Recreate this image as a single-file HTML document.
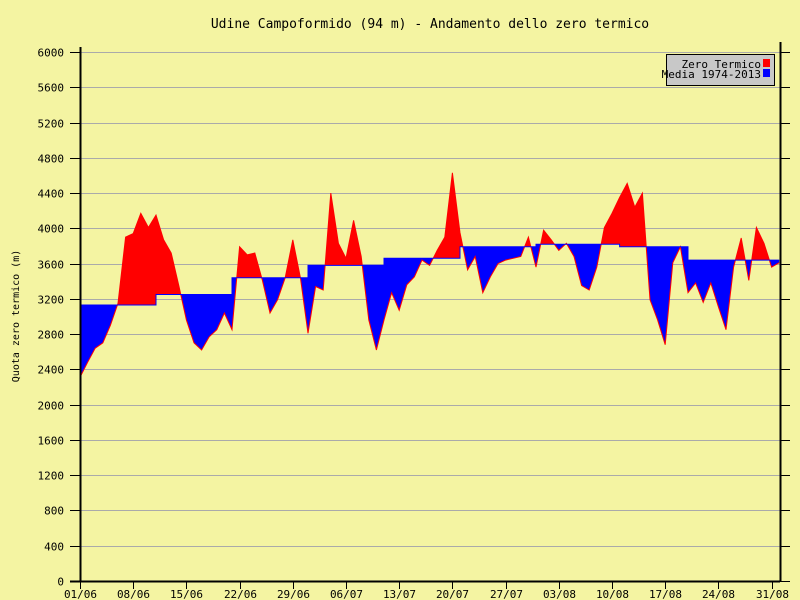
<!DOCTYPE html>
<html><head><meta charset="utf-8"><style>
body{margin:0;background:#f4f4a2}
svg{display:block}
text{font-family:"DejaVu Sans Mono","Liberation Mono",monospace;font-size:11px;fill:#000}
</style></head><body>
<svg id="chart" width="800" height="600"></svg>
<script>
const dayLabels=["01/06","08/06","15/06","22/06","29/06","06/07","13/07","20/07","27/07","03/08","10/08","17/08","24/08","31/08"];
const yTicks=[0,400,800,1200,1600,2000,2400,2800,3200,3600,4000,4400,4800,5200,5600,6000];
const zeroTermico=[2310,2480,2640,2700,2900,3150,3900,3940,4170,4010,4150,3870,3720,3350,2960,2700,2620,2770,2850,3040,2850,3790,3700,3720,3410,3040,3190,3440,3870,3440,2810,3340,3300,4400,3830,3660,4090,3680,2960,2620,2960,3270,3070,3360,3450,3640,3580,3750,3900,4630,3950,3530,3680,3270,3450,3600,3640,3660,3680,3900,3560,3980,3870,3750,3830,3680,3350,3300,3560,4010,4170,4350,4510,4240,4400,3190,2960,2680,3610,3790,3270,3380,3160,3380,3110,2850,3560,3890,3410,4010,3830,3560,3610];
const media=[3130,3130,3130,3130,3130,3130,3130,3130,3130,3130,3250,3250,3250,3250,3250,3250,3250,3250,3250,3250,3440,3440,3440,3440,3440,3440,3440,3440,3440,3440,3580,3580,3580,3580,3580,3580,3580,3580,3580,3580,3660,3660,3660,3660,3660,3660,3660,3660,3660,3660,3790,3790,3790,3790,3790,3790,3790,3790,3790,3790,3820,3820,3820,3820,3820,3820,3820,3820,3820,3820,3820,3790,3790,3790,3790,3790,3790,3790,3790,3790,3640,3640,3640,3640,3640,3640,3640,3640,3640,3640,3640,3640,3640];
const NS="http://www.w3.org/2000/svg";
const svg=document.getElementById('chart');
const X0=80,X1=780,Y0=581,Y1=52,DAYPX=7.6;
const xs=d=>X0+d*DAYPX;
const ys=v=>Y0-(v-0)/6000*(Y0-Y1);
function el(t,a,p){const e=document.createElementNS(NS,t);for(const k in a)e.setAttribute(k,a[k]);(p||svg).appendChild(e);return e;}
let t=el('text',{x:430,y:28,'text-anchor':'middle'});t.style.fontSize='13px';
t.textContent='Udine Campoformido (94 m) - Andamento dello zero termico';


t=el('text',{x:19,y:316,'text-anchor':'middle',transform:'rotate(-90 19 316)'});t.style.fontSize='10px';
t.textContent='Quota zero termico (m)';


yTicks.forEach(v=>{
  const y=Math.round(ys(v))+0.5;
  if(v>0){const g=el('line',{x1:X0,x2:X1,y1:y,y2:y,stroke:'#aaaaaa'});
  
  }
  el('line',{x1:70,x2:X0,y1:y,y2:y,stroke:'#000'});
  el('line',{x1:X1,x2:790,y1:y,y2:y,stroke:'#000'});
  const l=el('text',{x:64,y:y+4,'text-anchor':'end'});l.textContent=v;
  
  
});
const n=zeroTermico.length;
let valPts=[],meanPts=[];
for(let i=0;i<n;i++){valPts.push([xs(i),ys(zeroTermico[i])]);}
for(let i=0;i<n;i++){const x0=xs(i),x1=xs(Math.min(i+1,n-1));
  meanPts.push([x0,ys(media[i])]);if(i<n-1)meanPts.push([x1,ys(media[i])]);}
const defs=el('defs',{});
const ptsStr=a=>a.map(p=>p[0].toFixed(1)+','+p[1].toFixed(1)).join(' ');
const cpA=el('clipPath',{id:'above'},defs);
el('polygon',{points:ptsStr([[X0,Y1-20]].concat(meanPts,[[X1+10,meanPts[meanPts.length-1][1]],[X1+10,Y1-20]]))},cpA);
const cpB=el('clipPath',{id:'below'},defs);
el('polygon',{points:ptsStr([[X0,Y0]].concat(meanPts,[[X1+10,meanPts[meanPts.length-1][1]],[X1+10,Y0]]))},cpB);
const area=valPts.concat(meanPts.slice().reverse());
let a=el('polygon',{points:ptsStr(area),fill:'#ff0000','clip-path':'url(#above)'});


a=el('polygon',{points:ptsStr(area),fill:'#0000ff','clip-path':'url(#below)'});


let ln=el('polyline',{points:ptsStr(valPts),fill:'none',stroke:'#ff0000','stroke-width':1});


ln=el('polyline',{points:ptsStr(meanPts),fill:'none',stroke:'#0000ff','stroke-width':1});


el('line',{x1:X0+0.5,x2:X0+0.5,y1:Y1-5,y2:Y0,stroke:'#000','stroke-width':2});
el('line',{x1:X1+0.5,x2:X1+0.5,y1:Y1-10,y2:Y0,stroke:'#000','stroke-width':2});
el('line',{x1:70,x2:X1,y1:Y0+0.5,y2:Y0+0.5,stroke:'#000','stroke-width':2});
dayLabels.forEach((s,i)=>{
  const x=Math.round(xs(i*7))+0.5;
  el('line',{x1:x,x2:x,y1:Y0,y2:589,stroke:'#000'});
  const l=el('text',{x:x,y:598,'text-anchor':'middle'});l.textContent=s;
  
  
});
const lg=el('g',{});


el('rect',{x:666.5,y:54.5,width:108,height:31,fill:'#c8c8c8',stroke:'#000'},lg);
let lt=el('text',{x:761,y:68,'text-anchor':'end'},lg);lt.textContent='Zero Termico';


el('rect',{x:763,y:59,width:7,height:8,fill:'#ff0000'},lg);
lt=el('text',{x:761,y:78,'text-anchor':'end'},lg);lt.textContent='Media 1974-2013';


el('rect',{x:763,y:69,width:7,height:8,fill:'#0000ff'},lg);
</script>
</body></html>
